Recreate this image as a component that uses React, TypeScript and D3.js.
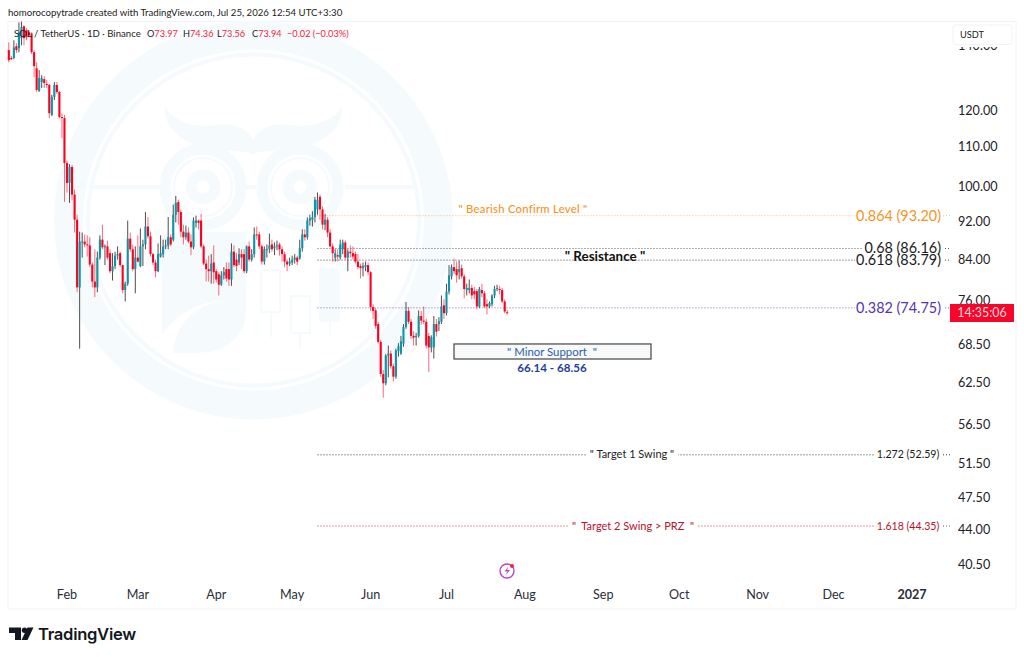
import * as d3 from 'd3'

const FONT = 'Lato, "Open Sans", sans-serif'
const DAY = 86400000
const firstDay = Date.UTC(2026, 0, 9)

const opens = [
  138.5,135.9,135.9,139.8,139.1,142.5,146.6,145.2,144.5,144.1,
  137.8,132.6,125.6,128.3,129.2,127.7,127.4,118.6,123.8,127.4,
  125.3,118,117.7,105.7,100.8,104.7,98,92.3,78.5,87.4,
  87.6,87,86.8,82.9,79.6,78.5,84.3,88,86.4,86.6,
  85.2,81.6,82.6,84.7,85.2,82.8,78,79.2,88.2,86,
  82,84.3,82.6,86.6,87,90.8,88.7,85,83.3,81.6,
  84.5,85,86.6,86.8,88.5,88,93.4,96.3,94,89.7,
  88.5,89.5,87.6,86.4,91.6,92.1,92.1,86.6,83.1,82,
  81.6,83.3,81.6,81,79,80.8,82,82,80,85.5,
  83.9,83.3,85,85,81.6,86.6,83.9,85,89.1,89.1,
  86.6,83.5,85.8,86,87,86.2,86.6,87,86,85,
  83.5,83.1,83.3,83.9,84.3,84.1,86.2,89.1,88.5,92.1,
  92.3,92.9,94.6,97.5,94.6,91.2,92.3,89.5,86.6,84.3,
  84.8,84.3,86,87.4,84.3,85.5,85.2,85,83.5,82.6,
  82.2,82.4,82.8,81.4,74.9,74.3,71.9,68.9,63.8,62.4,
  66.7,67,65,63.4,67.4,67,68.6,71.4,74.2,72.3,
  69.9,69.7,69.9,73.3,72.5,72.3,69.9,68,68,71.9,
  71.9,72.3,75.2,73.8,77.7,80.6,82.4,82,81.4,82.2,
  80.6,78,78,78.4,77.8,77.8,75,78,77.4,75.4,
  75,75.4,77,78.2,78.2,78,75.9,73.97,
]
const highs = [
  141.1,136.6,141.8,140.8,148,148.3,147,145.9,145.2,144.5,
  138.5,134.5,132,130.4,130.1,128.9,127.7,124.4,128.3,128.3,
  125.6,119.1,118.6,106.3,105.4,105.2,99.2,93.4,89.7,89.5,
  89.1,88.9,88.5,83.3,86,85.5,88.9,91.2,87,87.8,
  86,85.2,85.5,86.6,85.5,82.9,79.6,92.1,89.5,87,
  86.6,88.9,90.4,88,94,92.9,89.7,85.2,83.9,87.2,
  88.9,88,88,92.9,89.1,95.7,97.7,96.8,94.6,91.2,
  91,90.6,89.1,92.8,93.2,92.3,93.6,87,83.9,84.7,
  85,86.8,82,81.4,81.6,82.4,83.3,83.3,87.2,86.8,
  85.2,86.2,86,86,86.8,87.6,86,90.6,90.8,89.7,
  87,86.6,87,89.3,88,87.4,87.8,87.4,86.6,85.5,
  83.9,84.3,84.7,85,84.7,88,90.2,90.2,92.8,93.4,
  94.2,97.5,98.5,98,95.3,93.6,92.9,90.2,87.2,86,
  86,88,88,87.8,86,86.8,86.6,85.5,85,83.1,
  83.3,83.5,83.3,81.6,75.4,74.7,72.3,69.2,64.4,66.9,
  68.3,67.5,65.4,67.8,68.7,69.9,71.9,75.8,74.9,72.8,
  70.7,70.4,74.3,74.2,75,72.8,70.4,70,73.3,72.8,
  73.1,77,76.3,79.2,82.8,82.9,84.1,83.5,83.7,82.9,
  81,79.2,80,79,78.6,78.2,78.6,79.2,77.8,76.3,
  75.9,77.2,78.8,79,78.8,78.4,76.3,74.36,
]
const lows = [
  134.5,135.2,135.5,137.5,137.8,140.1,140.1,141.8,142.8,137.2,
  129.8,125.3,125.3,126.5,126.5,126.5,117.7,118.3,122.9,124.7,
  117.7,112.2,96.3,98.5,96.1,96.8,89.5,77.6,67.8,84.3,
  86.4,84.5,82.4,78.5,76.7,77.6,83.9,86,82.8,83.9,
  81.2,79.8,82,83.9,82.4,77.4,75.9,78.8,85.5,81.6,
  77.4,83.3,82.4,82.6,86,88.2,84.5,82.8,80.4,81.4,
  84.3,84.3,86,86,86.6,87.6,91.7,91.2,88.5,87,
  88,87.2,84.8,86,90.6,90.2,86.2,82.8,79.6,79.6,
  79.2,79.2,79.4,77,78.8,80,79.6,78.8,78.8,82.4,
  81.6,82.8,82,81.2,81.2,83.5,83.5,84.3,88,86,
  82.9,82.9,84.3,85.2,85.5,84.8,85.8,84.7,83.5,82.4,
  81.6,82.6,82.8,83.1,82.8,83.9,85.5,87.8,88,91,
  90.8,91.7,93.4,92.3,90.2,90,88.5,86.4,83.5,83.5,
  83.5,83.9,85,83.9,81.6,84.3,83.9,83.1,82,80.2,
  80.6,81.6,80.8,74.2,72.8,71.1,68.6,63.4,60.3,62.1,
  63.3,64.6,62.7,63.1,66.5,66.8,68.1,71.1,71.9,69.4,
  68.3,68.3,69.6,71.8,71.9,67.8,64.1,67.2,66.2,69.8,
  70.7,71.9,72.8,73.4,77.2,80,81,79.4,80,80.2,
  76.5,77,77.4,76.3,76.3,74.5,74.7,76.7,74.7,73.6,
  74.7,75,76.5,77.8,77.2,75.6,73.8,73.56,
]
const closes = [
  135.2,135.5,139.4,138.5,144.5,146.3,142.5,142.8,143.5,137.8,
  133.3,125.9,129.5,129.5,128,127.4,119.1,123.8,127.4,125.3,
  118,117.7,105.7,100.8,104.7,98,92.3,78.5,87.6,87.6,
  87,86.8,82.9,79.6,78.5,84.3,88,86.4,86.6,84.3,
  81.6,82.6,84.7,85,82.8,78,79.2,88.2,86,82,
  84.3,83.5,86.6,87,90.8,88.7,85,83.3,81.6,85,
  85.2,86.6,86.8,88.5,87,93.4,96.1,94,89.7,88.5,
  89.5,87.6,86.4,92.1,92.1,91.6,86.6,83.1,82,81.6,
  83.1,81.4,80,79,80.8,81.4,80.2,80,85.5,82.8,
  82.6,85,84.3,81.6,86.6,83.9,85,89.1,88.9,86.6,
  83.5,86,86,86.8,86,86.6,86.8,86,85,83.5,
  82.9,83.5,83.9,84.3,83.5,86.2,89.1,88.5,92.1,92.6,
  92.9,96.8,96.8,94.6,91.2,92.3,89.5,86.6,85.2,85.2,
  84.5,87,87.4,84.3,85.5,85.2,84.5,83.5,82.4,82.2,
  82.6,82.8,81.4,74.9,74.2,71.6,68.9,63.8,62.4,66.7,
  67,65,63.4,67.5,68.2,69,71.4,74.2,72.3,69.9,
  69.6,69.9,73.3,72.5,72.3,68.3,68,69.7,71.9,70.6,
  72.4,75,73.8,77.7,80.8,82.4,81.6,80.8,82,80.6,
  78.2,78.4,78.4,77,77.2,75,78.2,77.4,75,75,
  75.6,77,78.2,78.4,78,75.9,74.1,73.94,
]

const priceTicks = [140, 120, 110, 100, 92, 84, 76, 68.5, 62.5, 56.5, 51.5, 47.5, 44, 40.5]
const monthTicks = [
  { label: 'Feb', date: Date.UTC(2026, 1, 1) },
  { label: 'Mar', date: Date.UTC(2026, 2, 1) },
  { label: 'Apr', date: Date.UTC(2026, 3, 1) },
  { label: 'May', date: Date.UTC(2026, 4, 1) },
  { label: 'Jun', date: Date.UTC(2026, 5, 1) },
  { label: 'Jul', date: Date.UTC(2026, 6, 1) },
  { label: 'Aug', date: Date.UTC(2026, 7, 1) },
  { label: 'Sep', date: Date.UTC(2026, 8, 1) },
  { label: 'Oct', date: Date.UTC(2026, 9, 1) },
  { label: 'Nov', date: Date.UTC(2026, 10, 1) },
  { label: 'Dec', date: Date.UTC(2026, 11, 1) },
  { label: '2027', date: Date.UTC(2027, 0, 1) },
]
const fibLevels = [
  { label: '0.864 (93.20)', price: 93.2, color: '#f7931e', lineOpacity: 0.6, big: true, gap: [855, 943] },
  { label: '0.68 (86.16)', price: 86.16, color: '#1a1a1a', lineOpacity: 0.7, big: true, gap: [862, 945] },
  { label: '0.618 (83.79)', price: 83.79, color: '#1a1a1a', lineOpacity: 0.8, big: true, gap: [855, 945] },
  { label: '0.382 (74.75)', price: 74.75, color: '#5533b0', lineOpacity: 0.75, big: true, gap: [855, 945] },
  { label: '1.272 (52.59)', price: 52.59, color: '#1a1a1a', lineOpacity: 0.85, big: false, gap: [874, 943] },
  { label: '1.618 (44.35)', price: 44.35, color: '#b5122b', lineOpacity: 0.85, big: false, gap: [874, 943] },
]
const fibStart = Date.UTC(2026, 4, 11)
const fibEnd = Date.UTC(2027, 0, 16)
const supportLow = 66.14
const supportHigh = 68.56

const x = d3.scaleUtc().domain([Date.UTC(2026, 1, 1), Date.UTC(2027, 0, 1)]).range([67, 912])
const y = d3.scaleLog().domain([40.5, 120]).range([564, 110])

const UP = '#0e95a8'
const DOWN = '#fb0020'
const WM = '#f5fbfc'

function Watermark() {
  return (
    <g fill={WM} stroke="none">
      <circle cx={253.5} cy={220} r={185} fill="none" stroke={WM} strokeWidth={29} />
      <circle cx={253.5} cy={220} r={165.5} fill="none" stroke={WM} strokeWidth={4} />
      <rect x={92} y={185} width={70} height={4} />
      <rect x={345} y={185} width={70} height={4} />
      <rect x={245} y={185} width={14} height={4} />
      {[203, 300].map((cx) => (
        <g key={cx}>
          <circle cx={cx} cy={187} r={38} fill="none" stroke={WM} strokeWidth={11} />
          <circle cx={cx} cy={187} r={29} fill="none" stroke={WM} strokeWidth={2} />
          <circle cx={cx} cy={187} r={12} fill="none" stroke={WM} strokeWidth={11} />
        </g>
      ))}
      <path d="M165 105 C162 130 185 145 215 150 C235 152 248 150 253 155 C258 150 271 152 291 150 C321 145 344 130 342 105 C335 122 310 128 290 125 C270 122 258 130 253 140 C248 130 236 122 216 125 C196 128 172 122 165 105 Z" />
      <path d="M162 232 H246 V310 C246 338 225 353 195 353 H173 C175 325 195 303 226 301 C200 300 175 315 162 335 Z" />
      <rect x={261} y={270} width={19} height={42} fill="none" stroke={WM} strokeWidth={2} />
      <rect x={270} y={312} width={2} height={25} />
      <rect x={291} y={296} width={19} height={37} fill="none" stroke={WM} strokeWidth={2} />
      <rect x={299} y={333} width={2} height={15} />
      <rect x={319} y={268} width={21} height={54} rx={2} />
      <rect x={329} y={322} width={2} height={13} />
    </g>
  )
}

function Candles() {
  const w = 2.1
  return (
    <g>
      {closes.map((c, i) => {
        const cx = x(firstDay + i * DAY)
        const up = c >= opens[i]
        const top = y(Math.max(opens[i], c))
        const bottom = y(Math.min(opens[i], c))
        return (
          <g key={i}>
            <line
              x1={cx}
              x2={cx}
              y1={y(highs[i])}
              y2={y(lows[i])}
              stroke={up ? '#222222' : DOWN}
              strokeOpacity={up ? 0.8 : 0.6}
              strokeWidth={1}
            />
            <rect
              x={cx - w / 2}
              y={top}
              width={w}
              height={Math.max(1, bottom - top)}
              fill={up ? UP : DOWN}
            />
          </g>
        )
      })}
    </g>
  )
}

export default function App() {
  return (
    <svg
      width={1024}
      height={657}
      style={{ position: 'fixed', left: 0, top: 0, background: '#fff', display: 'block' }}
    >
      <text x={8} y={15.5} fontSize={9.65} fill="#222" fontFamily={FONT}>
        homorocopytrade created with TradingView.com, Jul 25, 2026 12:54 UTC+3:30
      </text>
      <rect x={8} y={21.5} width={1008} height={587.5} fill="#fff" stroke="#f1f3f6" />

      <Watermark />

      {/* fib lines, broken where the labels sit */}
      {fibLevels.map((f) => {
        const ly = y(f.price)
        return (
          <g key={f.label} stroke={f.color} strokeOpacity={f.lineOpacity} strokeDasharray="1 2">
            <line x1={x(fibStart)} x2={f.gap[0]} y1={ly} y2={ly} />
            <line x1={f.gap[1]} x2={x(fibEnd)} y1={ly} y2={ly} />
          </g>
        )
      })}

      <Candles />

      {/* legend */}
      <text x={14} y={36.5} fontSize={9.6} fill="#222" fontFamily={FONT}>
        SOL / TetherUS · 1D · Binance
      </text>
      <text y={36.5} fontSize={9.2} fontFamily={FONT} fill="#f7233b">
        <tspan x={147} fill="#222">O</tspan><tspan>73.97</tspan>
        <tspan x={183} fill="#222">H</tspan><tspan>74.36</tspan>
        <tspan x={217} fill="#222">L</tspan><tspan>73.56</tspan>
        <tspan x={252} fill="#222">C</tspan><tspan>73.94</tspan>
        <tspan x={287}>−0.02 (−0.03%)</tspan>
      </text>

      {/* price axis */}
      {priceTicks.map((t) => (
        <text key={t} x={958} y={y(t) + 4.5} fontSize={12.6} fill="#1d2128" fontFamily={FONT}>
          {t.toFixed(2)}
        </text>
      ))}
      <rect x={953} y={25} width={59} height={22} fill="#fff" />
      <rect x={953} y={25} width={59} height={19.5} rx={3} fill="#fff" stroke="#f1f3f6" />
      <text x={960} y={38} fontSize={9.2} fill="#222" fontFamily={FONT}>
        USDT
      </text>

      {/* time axis */}
      {monthTicks.map((m) => (
        <text
          key={m.label}
          x={x(m.date)}
          y={598.5}
          textAnchor="middle"
          fontSize={12.6}
          fontWeight={m.label === '2027' ? 700 : 400}
          fill="#2a2e39"
          fontFamily={FONT}
        >
          {m.label}
        </text>
      ))}

      {/* fib labels */}
      {fibLevels.map((f) => (
        <text
          key={f.label}
          x={f.big ? 941 : 908}
          y={y(f.price) + (f.big ? 5 : 3.5)}
          textAnchor={f.big ? 'end' : 'middle'}
          fontSize={f.big ? 14.4 : 10.6}
          fill={f.color}
          fontFamily={FONT}
        >
          {f.label}
        </text>
      ))}

      {/* annotations */}
      <text x={523} y={212.5} textAnchor="middle" fontSize={11.2} fontWeight={500} fill="#f7931e" fontFamily={FONT} letterSpacing={0.3} xmlSpace="preserve">
        " Bearish Confirm Level "
      </text>
      <text x={605} y={261} textAnchor="middle" fontSize={13.4} fontWeight={700} fill="#111" fontFamily={FONT} xmlSpace="preserve">
        " Resistance "
      </text>
      <rect
        x={454}
        y={y(supportHigh)}
        width={197}
        height={y(supportLow) - y(supportHigh)}
        fill="#f8f9fa"
        stroke="#444"
        strokeWidth={1.2}
      />
      <text x={552} y={355.5} textAnchor="middle" fontSize={11.4} fill="#2a5fa8" fontFamily={FONT} xmlSpace="preserve">
        " Minor Support  "
      </text>
      <text x={552} y={372} textAnchor="middle" fontSize={11.6} fontWeight={700} fill="#1e3f9a" fontFamily={FONT}>
        {supportLow} - {supportHigh}
      </text>
      <rect x={587} y={y(52.59) - 6} width={91} height={12} fill="#fff" />
      <text x={632} y={y(52.59) + 3.5} textAnchor="middle" fontSize={11} fill="#222" fontFamily={FONT} xmlSpace="preserve">
        " Target 1 Swing "
      </text>
      <rect x={569} y={y(44.35) - 6} width={128} height={12} fill="#fff" />
      <text x={633} y={y(44.35) + 3.5} textAnchor="middle" fontSize={11} fill="#b5122b" fontFamily={FONT} xmlSpace="preserve">
        "  Target 2 Swing &gt; PRZ  "
      </text>

      {/* last price countdown */}
      <rect x={950} y={304} width={64} height={18} fill="#f7052a" />
      <text x={982} y={317} textAnchor="middle" fontSize={12.4} fill="#ffd9de" fontFamily={FONT}>
        14:35:06
      </text>

      {/* event marker */}
      <circle cx={507} cy={571} r={7} fill="#fff" stroke="#b44ac8" strokeWidth={1.4} />
      <path d="M508.5 566.5 L504.5 571.5 H507.5 L505.5 575.5 L510 570 H507 Z" fill="#b44ac8" />
      <circle cx={512} cy={566} r={2} fill="#f7233b" />

      {/* logo */}
      <g fill="#131722">
        <path d="M9 627.5 H21 V640 H15 V633 H9 Z" />
        <circle cx={24.5} cy={630.2} r={2.7} />
        <path d="M27.5 627.5 H33.5 L27.5 640 H21.5 Z" />
        <text x={38} y={639.5} fontSize={16.6} fontWeight={600} fontFamily='Inter, sans-serif' letterSpacing={-0.3}>
          TradingView
        </text>
      </g>
    </svg>
  )
}
